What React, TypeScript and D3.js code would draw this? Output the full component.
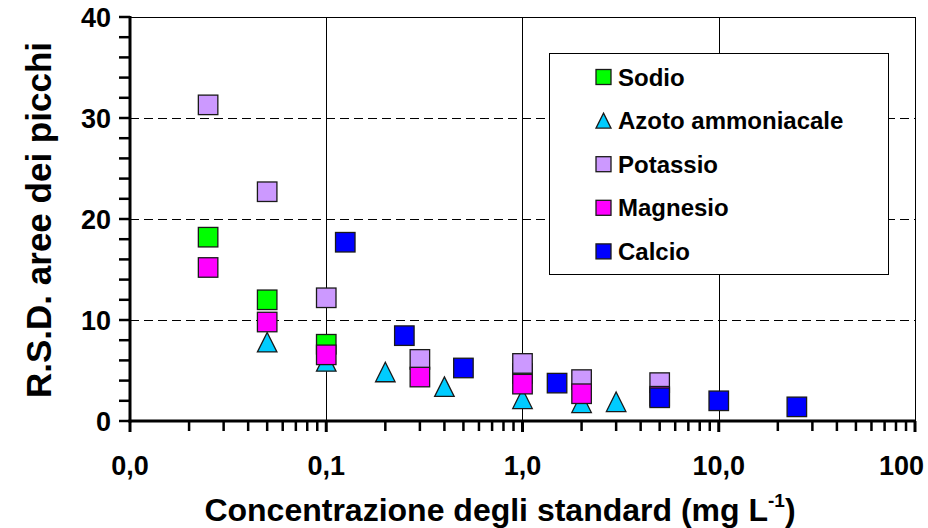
import React from "react";
import * as d3 from "d3";

const sodioX = [0.025, 0.05, 0.1, 1];
const sodioY = [18.2, 12.0, 7.6, 4.7];
const azotoX = [0.05, 0.1, 0.2, 0.4, 1, 2, 3];
const azotoY = [7.8, 5.9, 4.85, 3.4, 2.2, 1.8, 1.9];
const potassioX = [0.025, 0.05, 0.1, 0.3, 1, 2, 5];
const potassioY = [31.3, 22.7, 12.2, 6.1, 5.7, 4.1, 3.8];
const magnesioX = [0.025, 0.05, 0.1, 0.3, 1, 2, 5];
const magnesioY = [15.2, 9.8, 6.55, 4.35, 3.65, 2.7, 2.45];
const calcioX = [0.125, 0.25, 0.5, 1.5, 5, 10, 25];
const calcioY = [17.7, 8.45, 5.25, 3.75, 2.3, 2.0, 1.4];

const seriesNames = ["Sodio", "Azoto ammoniacale", "Potassio", "Magnesio", "Calcio"];
const seriesColors = ["#00FF00", "#00CCFF", "#CC99FF", "#FF00FF", "#0000FF"];
const seriesShapes = ["square", "triangle", "square", "square", "square"];

const xTickValues = [0.01, 0.1, 1, 10, 100];
const xTickLabels = ["0,0", "0,1", "1,0", "10,0", "100"];
const yTickValues = [0, 10, 20, 30, 40];
const xGridValues = [0.1, 1, 10];
const yGridValues = [10, 20, 30];

const yTitle = "R.S.D. aree dei picchi";
const xTitleMain = "Concentrazione degli standard (mg L";
const xTitleSup = "-1";
const xTitleEnd = ")";

const W = 928, H = 528;
const L = 130, R = 915, T = 17, B = 421;
const FONT = "'Liberation Sans', Arial, Helvetica, sans-serif";

const crisp = (v: number) => Math.round(v) + 0.5;

function Marker({ shape, cx, cy, size, color }: any) {
  if (shape === "triangle") {
    const h = size;
    const w = size;
    const p = `M${cx},${cy - h / 2} L${cx + w / 2},${cy + h / 2} L${cx - w / 2},${cy + h / 2} Z`;
    return <path d={p} fill={color} stroke="#1a1a1a" strokeWidth={1.3} />;
  }
  return (
    <rect x={cx - size / 2} y={cy - size / 2} width={size} height={size}
      fill={color} stroke="#1a1a1a" strokeWidth={1.3} />
  );
}

export default function App() {
  const x = d3.scaleLog().domain([0.01, 100]).range([L, R]);
  const y = d3.scaleLinear().domain([0, 40]).range([B, T]);

  const allX = [sodioX, azotoX, potassioX, magnesioX, calcioX];
  const allY = [sodioY, azotoY, potassioY, magnesioY, calcioY];

  const minorX: number[] = [];
  [0.01, 0.1, 1, 10].forEach((d) => {
    for (let m = 2; m <= 9; m++) minorX.push(d * m);
  });
  const yTicksAll = d3.range(0, 41, 2);

  const legX = 549, legY = 53, legW = 339, legH = 221;
  const legStart = 77, legStep = 43.6;

  return (
    <svg width={W} height={H} style={{ position: "absolute", left: 0, top: 0, background: "#fff" }}
      fontFamily={FONT}>
      <rect x={0} y={0} width={W} height={H} fill="#fff" />
      {/* gridlines */}
      {yGridValues.map((v) => (
        <line key={"gy" + v} x1={L} x2={R} y1={crisp(y(v))} y2={crisp(y(v))} stroke="#000" strokeWidth={1}
          strokeDasharray="9,5" />
      ))}
      {xGridValues.map((v) => (
        <line key={"gx" + v} x1={crisp(x(v))} x2={crisp(x(v))} y1={T} y2={B} stroke="#000" strokeWidth={1} />
      ))}
      {/* frame top/right */}
      <line x1={L} x2={R} y1={T + 0.5} y2={T + 0.5} stroke="#000" strokeWidth={1} />
      <line x1={R + 0.5} x2={R + 0.5} y1={T} y2={B} stroke="#000" strokeWidth={1} />

      {/* legend box */}
      <rect x={legX + 0.5} y={legY + 0.5} width={legW} height={legH} fill="#fff" stroke="#000" strokeWidth={1} />
      {seriesNames.map((n, i) => {
        const cy = legStart + i * legStep;
        return (
          <g key={"leg" + i}>
            <Marker shape={seriesShapes[i]} cx={603.5} cy={cy} size={15} color={seriesColors[i]} />
            <text x={618} y={cy + 8.6} fontSize={24} fontWeight="bold" fill="#000">{n}</text>
          </g>
        );
      })}

      {/* points */}
      {allX.map((xs, si) =>
        xs.map((xv, j) => (
          <Marker key={`p${si}-${j}`} shape={seriesShapes[si]} cx={x(xv)} cy={y(allY[si][j])}
            size={19.5} color={seriesColors[si]} />
        ))
      )}

      {/* axes */}
      <line x1={L} x2={L} y1={T - 1} y2={B + 1.5} stroke="#000" strokeWidth={3} />
      <line x1={L - 1.5} x2={R + 1} y1={B} y2={B} stroke="#000" strokeWidth={3} />
      {yTicksAll.map((v) => (
        <line key={"yt" + v} x1={L - 11} x2={L} y1={y(v)} y2={y(v)} stroke="#000" strokeWidth={2.5} />
      ))}
      {minorX.map((v) => (
        <line key={"xm" + v} x1={x(v)} x2={x(v)} y1={B} y2={B + 10} stroke="#000" strokeWidth={2.5} />
      ))}
      {xTickValues.map((v) => (
        <line key={"xM" + v} x1={x(v)} x2={x(v)} y1={B} y2={B + 11} stroke="#000" strokeWidth={3} />
      ))}

      {/* tick labels */}
      {yTickValues.map((v) => (
        <text key={"yl" + v} x={111} y={y(v) + 9.5} textAnchor="end" fontSize={27} fontWeight="bold">{v}</text>
      ))}
      {xTickValues.map((v, i) => {
        const last = i === xTickValues.length - 1;
        return (
          <text key={"xl" + v} x={last ? 924 : x(v)} y={475} textAnchor={last ? "end" : "middle"}
            fontSize={27} fontWeight="bold">{xTickLabels[i]}</text>
        );
      })}

      {/* titles */}
      <text transform={`translate(51,220) rotate(-90)`} textAnchor="middle" fontSize={35} fontWeight="bold">{yTitle}</text>
      <text x={500} y={521} textAnchor="middle" fontSize={32} fontWeight="bold">
        {xTitleMain}
        <tspan fontSize={19} dy={-14}>{xTitleSup}</tspan>
        <tspan dy={14}>{xTitleEnd}</tspan>
      </text>
    </svg>
  );
}
